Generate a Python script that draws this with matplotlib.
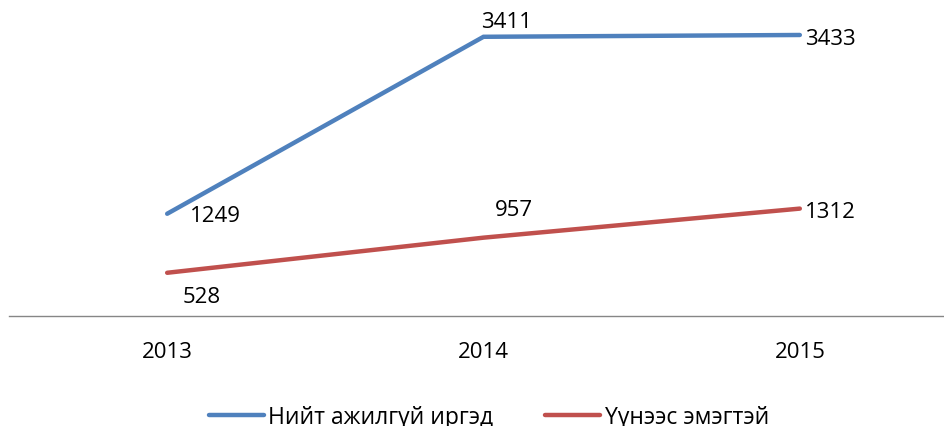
import matplotlib
matplotlib.use("Agg")
import matplotlib.pyplot as plt

years = ["2013", "2014", "2015"]
total = [1249, 3411, 3433]
women = [528, 957, 1312]
series_names = ["Нийт ажилгүй иргэд", "Үүнээс эмэгтэй"]

# label offsets in points (dx, dy) relative to each data point
total_offsets = [(16.5, -1), (-1.5, 11), (3.5, -2.5)]
women_offsets = [(11, -17), (8.5, 20), (3.5, -2)]

plt.rcParams['font.family'] = ['Open Sans', 'DejaVu Sans']

fig = plt.figure(figsize=(9.44, 4.27), dpi=100)
ax = fig.add_axes([9/944, 110/427, 949/944, 286.5/427])

x = list(range(len(years)))
blue = "#4F81BD"
red = "#C0504D"
l1, = ax.plot(x, total, color=blue, lw=3.2, solid_capstyle='round', solid_joinstyle='miter', label=series_names[0])
l2, = ax.plot(x, women, color=red, lw=3.2, solid_capstyle='round', label=series_names[1])

fs = 16
for xi, v, (dx, dy) in zip(x, total, total_offsets):
    ax.annotate(str(v), (xi, v), xytext=(dx, dy), textcoords='offset points',
                ha='left', va='center', fontsize=fs, color='black')
for xi, v, (dx, dy) in zip(x, women, women_offsets):
    ax.annotate(str(v), (xi, v), xytext=(dx, dy), textcoords='offset points',
                ha='left', va='center', fontsize=fs, color='black')

ax.set_xlim(-0.5, 2.5)
ax.set_ylim(0, 3500)
ax.set_xticks(x)
ax.set_xticklabels(years, fontsize=fs)
ax.tick_params(axis='x', length=0, pad=18)
ax.set_yticks([])
for s in ['top', 'right', 'left']:
    ax.spines[s].set_visible(False)
ax.spines['bottom'].set_color('#868686')
ax.spines['bottom'].set_linewidth(1.0)
ax.patch.set_visible(False)

fig.legend(handles=[l1, l2], loc='center', bbox_to_anchor=(489/944, 1 - 418/427),
           ncol=2, frameon=False, fontsize=16.5, handlelength=2.4,
           handletextpad=0.2, columnspacing=2.27, borderpad=0)

fig.savefig("out.png", dpi=100)
